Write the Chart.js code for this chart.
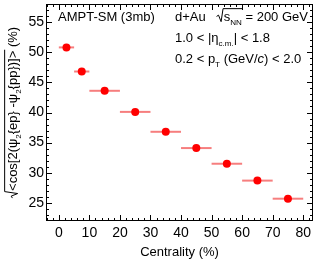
<!DOCTYPE html>
<html>
<head>
<meta charset="utf-8">
<script src="https://cdn.jsdelivr.net/npm/chart.js@4.4.1/dist/chart.umd.min.js"></script>
<style>
  html, body { margin: 0; padding: 0; background: #fff; }
  #wrap { width: 317px; height: 260px; }
</style>
</head>
<body>
<div id="wrap"><canvas id="c" width="317" height="260"></canvas></div>
<script>
// data
const centrality = [2.5, 7.5, 15, 25, 35, 45, 55, 65, 75];
const binLow     = [0, 5, 10, 20, 30, 40, 50, 60, 70];
const binHigh    = [5, 10, 20, 30, 40, 50, 60, 70, 80];
const resolution = [50.8, 46.8, 43.6, 40.1, 36.8, 34.1, 31.5, 28.7, 25.7];
const xTicks = [0, 10, 20, 30, 40, 50, 60, 70, 80];
const yTicks = [25, 30, 35, 40, 45, 50, 55];

const FONT = '"Liberation Sans", Arial, sans-serif';

// rich text: segments {t, sub, it}
function richWidth(ctx, segs, size) {
  let w = 0;
  segs.forEach(s => {
    const fs = s.sub ? size * 0.62 : size;
    ctx.font = (s.it ? 'italic ' : '') + fs + 'px ' + FONT;
    w += ctx.measureText(s.t).width;
  });
  return w;
}
function drawRich(ctx, x, y, segs, size) {
  segs.forEach(s => {
    const fs = s.sub ? size * 0.62 : size;
    ctx.font = (s.it ? 'italic ' : '') + fs + 'px ' + FONT;
    ctx.fillText(s.t, x, y + (s.sub ? size * 0.28 : 0));
    x += ctx.measureText(s.t).width;
  });
  return x;
}
function drawSqrt(ctx, x, y, segs, size) {
  // root sign then overlined content
  const w = richWidth(ctx, segs, size);
  ctx.save();
  ctx.lineWidth = 1;
  ctx.beginPath();
  ctx.moveTo(x, y - size * 0.35);
  ctx.lineTo(x + size * 0.15, y - size * 0.45);
  ctx.lineTo(x + size * 0.35, y + size * 0.05);
  ctx.lineTo(x + size * 0.5, y - size * 0.95);
  ctx.lineTo(x + size * 0.55 + w + 1, y - size * 0.95);
  ctx.stroke();
  ctx.restore();
  return drawRich(ctx, x + size * 0.55, y, segs, size);
}

const rootStyle = {
  id: 'rootStyle',
  beforeDatasetsDraw(chart) {
    const ctx = chart.ctx, xs = chart.scales.x, ys = chart.scales.y;
    ctx.save();
    ctx.strokeStyle = 'rgba(240,40,40,0.6)';
    ctx.lineWidth = 2;
    centrality.forEach((c, i) => {
      const py = ys.getPixelForValue(resolution[i]);
      ctx.beginPath();
      ctx.moveTo(xs.getPixelForValue(binLow[i]), py);
      ctx.lineTo(xs.getPixelForValue(binHigh[i]), py);
      ctx.stroke();
    });
    ctx.restore();
  },
  afterDraw(chart) {
    const ctx = chart.ctx, a = chart.chartArea, xs = chart.scales.x, ys = chart.scales.y;
    ctx.save();
    ctx.strokeStyle = '#000';
    ctx.lineWidth = 1;
    ctx.strokeRect(Math.round(a.left) + 0.5, Math.round(a.top) + 0.5,
                   Math.round(a.right - a.left) - 1, Math.round(a.bottom - a.top) - 1);
    ctx.beginPath();
    for (let v = -4; v <= 82; v += 2) {
      const px = Math.round(xs.getPixelForValue(v)) + 0.5;
      const len = v % 10 === 0 ? 6 : 3;
      ctx.moveTo(px, a.bottom); ctx.lineTo(px, a.bottom - len);
      ctx.moveTo(px, a.top); ctx.lineTo(px, a.top + len);
    }
    for (let v = 23; v <= 57; v++) {
      const py = Math.round(ys.getPixelForValue(v)) + 0.5;
      const len = v % 5 === 0 ? 6 : 3;
      ctx.moveTo(a.left, py); ctx.lineTo(a.left + len, py);
      ctx.moveTo(a.right, py); ctx.lineTo(a.right - len, py);
    }
    ctx.stroke();

    // labels inside the frame
    ctx.fillStyle = '#000';
    ctx.textBaseline = 'alphabetic';
    drawRich(ctx, 58, 21, [{t: 'AMPT-SM (3mb)'}], 13);
    let x = drawRich(ctx, 175, 21, [{t: 'd+Au   '}], 13);
    x = drawSqrt(ctx, x, 21, [{t: 's'}, {t: 'NN', sub: true}], 13);
    drawRich(ctx, x, 21, [{t: ' = 200 GeV'}], 13);
    drawRich(ctx, 175, 42, [{t: '1.0 < |\u03b7'}, {t: 'c.m.', sub: true}, {t: '| < 1.8'}], 13);
    drawRich(ctx, 175, 63, [{t: '0.2 < p'}, {t: 'T', sub: true}, {t: ' (GeV/'}, {t: 'c', it: true}, {t: ') < 2.0'}], 13);

    // y title, rotated
    const inner = [{t: '<cos[2(\u03c8'}, {t: '2', sub: true}, {t: '{ep} -\u03c8'}, {t: '2', sub: true},
                   {t: '{pp})]>'}];
    const tail = [{t: ' (%)'}];
    const size = 13;
    const total = size * 0.55 + richWidth(ctx, inner, size) + richWidth(ctx, tail, size);
    ctx.translate(17, (a.top + a.bottom) / 2);
    ctx.rotate(-Math.PI / 2);
    const end = drawSqrt(ctx, -total / 2, 0, inner, size);
    drawRich(ctx, end, 0, tail, size);
    ctx.restore();
  }
};

new Chart(document.getElementById('c'), {
  type: 'scatter',
  data: {
    datasets: [{
      data: centrality.map((c, i) => ({x: c, y: resolution[i]})),
      backgroundColor: '#ff0000',
      borderColor: '#ff0000',
      pointRadius: 4,
      pointBorderWidth: 0
    }]
  },
  options: {
    responsive: false,
    animation: false,
    layout: { padding: { top: 3, right: 4, left: 0, bottom: 0 } },
    plugins: { legend: { display: false }, tooltip: { enabled: false } },
    scales: {
      x: {
        type: 'linear', min: -4.2, max: 83.2,
        afterBuildTicks: s => { s.ticks = xTicks.map(v => ({value: v})); },
        afterFit: s => { s.height = 39; s.paddingLeft = 0; s.paddingRight = 0; },
        grid: { display: false, drawTicks: false },
        border: { display: false },
        ticks: { color: '#000', padding: 4, maxRotation: 0, font: { family: FONT, size: 14 } },
        title: { display: true, text: 'Centrality (%)', color: '#000', padding: { top: 2, bottom: 0 },
                 font: { family: FONT, size: 13 } }
      },
      y: {
        type: 'linear', min: 22, max: 58,
        afterBuildTicks: s => { s.ticks = yTicks.map(v => ({value: v})); },
        afterFit: s => { s.width = 46; s.paddingTop = 0; s.paddingBottom = 0; },
        grid: { display: false, drawTicks: false },
        border: { display: false },
        ticks: { color: '#000', padding: 2, font: { family: FONT, size: 14 } }
      }
    }
  },
  plugins: [rootStyle]
});
</script>
</body>
</html>
